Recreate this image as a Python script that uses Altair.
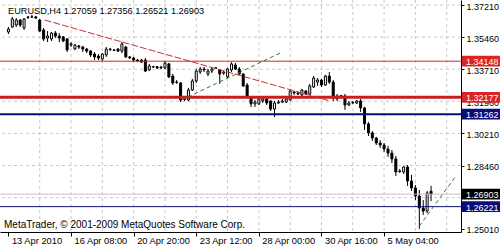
import json
import altair as alt
import pandas as pd

symbol = "EURUSD,H4"

opens = [1.3574, 1.3601, 1.3612, 1.3639, 1.3596, 1.3656, 1.3655, 1.3656, 1.3639, 1.3585,
         1.3541, 1.3536, 1.3568, 1.3552, 1.3547, 1.3536, 1.3503, 1.3481, 1.3498, 1.3492,
         1.3481, 1.3470, 1.3454, 1.3443, 1.3427, 1.3449, 1.3481, 1.3476, 1.3481, 1.3470,
         1.3492, 1.3438, 1.3432, 1.3421, 1.3421, 1.3421, 1.3367, 1.3383, 1.3385, 1.3378,
         1.3378, 1.3400, 1.3334, 1.3301, 1.3296, 1.3209, 1.3203, 1.3258, 1.3307, 1.3356,
         1.3372, 1.3345, 1.3361, 1.3378, 1.3367, 1.3350, 1.3329, 1.3367, 1.3394, 1.3372,
         1.3345, 1.3285, 1.3220, 1.3182, 1.3182, 1.3198, 1.3209, 1.3198, 1.3154, 1.3187,
         1.3192, 1.3192, 1.3203, 1.3247, 1.3242, 1.3231, 1.3252, 1.3236, 1.3274, 1.3301,
         1.3312, 1.3285, 1.3334, 1.3301, 1.3209, 1.3225, 1.3225, 1.3176, 1.3187, 1.3187,
         1.3198, 1.3160, 1.3073, 1.3024, 1.2996, 1.2969, 1.2958, 1.2936, 1.2914, 1.2882,
         1.2816, 1.2811, 1.2838, 1.2762, 1.2724, 1.2680, 1.2615, 1.2598, 1.27059]

highs = [1.3601, 1.3656, 1.3650, 1.3645, 1.3650, 1.3661, 1.3667, 1.3661, 1.3645, 1.3596,
         1.3579, 1.3574, 1.3579, 1.3568, 1.3552, 1.3541, 1.3519, 1.3509, 1.3503, 1.3498,
         1.3487, 1.3476, 1.3465, 1.3454, 1.3459, 1.3492, 1.3487, 1.3481, 1.3487, 1.3519,
         1.3498, 1.3443, 1.3438, 1.3427, 1.3427, 1.3432, 1.3400, 1.3389, 1.3389, 1.3389,
         1.3416, 1.3405, 1.3345, 1.3312, 1.3301, 1.3220, 1.3269, 1.3318, 1.3372, 1.3383,
         1.3383, 1.3372, 1.3383, 1.3383, 1.3372, 1.3361, 1.3378, 1.3410, 1.3405, 1.3383,
         1.3350, 1.3296, 1.3225, 1.3203, 1.3214, 1.3214, 1.3214, 1.3203, 1.3198, 1.3203,
         1.3209, 1.3214, 1.3263, 1.3252, 1.3247, 1.3263, 1.3258, 1.3291, 1.3334, 1.3323,
         1.3318, 1.3340, 1.3356, 1.3312, 1.3236, 1.3231, 1.3236, 1.3198, 1.3198, 1.3203,
         1.3209, 1.3165, 1.3083, 1.3034, 1.3002, 1.2985, 1.2969, 1.2953, 1.2931, 1.2898,
         1.2827, 1.2844, 1.2849, 1.2795, 1.2740, 1.2713, 1.2658, 1.2707, 1.27356]

lows = [1.3563, 1.3596, 1.3601, 1.3601, 1.3585, 1.3645, 1.3650, 1.3645, 1.3574, 1.3525,
        1.3519, 1.3525, 1.3541, 1.3519, 1.3519, 1.3465, 1.3492, 1.3476, 1.3481, 1.3465,
        1.3459, 1.3438, 1.3421, 1.3421, 1.3416, 1.3438, 1.3470, 1.3470, 1.3465, 1.3459,
        1.3432, 1.3427, 1.3410, 1.3410, 1.3405, 1.3356, 1.3361, 1.3378, 1.3372, 1.3372,
        1.3372, 1.3323, 1.3285, 1.3291, 1.3192, 1.3198, 1.3198, 1.3252, 1.3296, 1.3345,
        1.3356, 1.3334, 1.3350, 1.3372, 1.3291, 1.3340, 1.3323, 1.3356, 1.3367, 1.3340,
        1.3274, 1.3214, 1.3165, 1.3165, 1.3176, 1.3187, 1.3176, 1.3143, 1.3111, 1.3182,
        1.3187, 1.3187, 1.3198, 1.3231, 1.3231, 1.3225, 1.3231, 1.3231, 1.3269, 1.3280,
        1.3274, 1.3280, 1.3291, 1.3198, 1.3198, 1.3220, 1.3149, 1.3171, 1.3182, 1.3182,
        1.3138, 1.3040, 1.3007, 1.2980, 1.2958, 1.2942, 1.2920, 1.2893, 1.2860, 1.2789,
        1.2806, 1.2800, 1.2735, 1.2707, 1.2658, 1.2501, 1.2577, 1.2587, 1.26521]

closes = [1.3590, 1.3645, 1.3639, 1.3612, 1.3645, 1.3653, 1.3657, 1.3650, 1.3579, 1.3536,
          1.3552, 1.3568, 1.3552, 1.3541, 1.3525, 1.3476, 1.3509, 1.3503, 1.3492, 1.3481,
          1.3470, 1.3449, 1.3438, 1.3432, 1.3454, 1.3481, 1.3479, 1.3474, 1.3470, 1.3509,
          1.3438, 1.3433, 1.3421, 1.3416, 1.3410, 1.3361, 1.3389, 1.3385, 1.3378, 1.3383,
          1.3405, 1.3329, 1.3296, 1.3299, 1.3203, 1.3207, 1.3258, 1.3307, 1.3361, 1.3372,
          1.3367, 1.3361, 1.3372, 1.3376, 1.3345, 1.3356, 1.3372, 1.3400, 1.3372, 1.3345,
          1.3280, 1.3220, 1.3182, 1.3192, 1.3209, 1.3209, 1.3187, 1.3154, 1.3187, 1.3192,
          1.3198, 1.3209, 1.3252, 1.3242, 1.3236, 1.3258, 1.3236, 1.3280, 1.3323, 1.3312,
          1.3285, 1.3334, 1.3301, 1.3214, 1.3225, 1.3227, 1.3176, 1.3187, 1.3190, 1.3198,
          1.3160, 1.3073, 1.3024, 1.2996, 1.2969, 1.2958, 1.2936, 1.2914, 1.2882, 1.2811,
          1.2813, 1.2838, 1.2762, 1.2724, 1.2680, 1.2615, 1.2598, 1.2697, 1.26903]

date_pos = [0, 16, 32, 48, 64, 80, 96]
date_labels = ["13 Apr 2010", "16 Apr 08:00", "20 Apr 20:00", "23 Apr 12:00",
               "28 Apr 00:00", "30 Apr 16:00", "5 May 04:00"]
# 1.26710 sits fully under the 1.26903 / 1.26221 boxes in the reference
price_ticks = [1.2501, 1.2846, 1.3021, 1.3196, 1.3371, 1.3546, 1.3721]
grid_prices = [1.2671, 1.2846, 1.3021, 1.3196, 1.3371, 1.3546, 1.3721]
grid_bars = [8, 16, 24, 32, 40, 48, 56, 64, 72, 80, 88, 96, 104, 112]

levels = [1.34148, 1.32177, 1.31262, 1.26903, 1.26221]

red_trend_i = [9.25, 81.75]
red_trend_p = [1.36392, 1.32004]
green_trend1_i = [44.25, 70.0]
green_trend1_p = [1.32031, 1.34648]
green_trend2_i = [105.0, 114.25]
green_trend2_p = [1.25162, 1.2786]

copyright_text = "MetaTrader, \u00a9 2001-2009 MetaQuotes Software Corp."

# ---------------------------------------------------------------- styles
FONT = "Liberation Sans"
RED = "#dc2424"
NAVY = "#0c0c78"
level_styles = [
    dict(color=RED, width=1, box=RED),
    dict(color="#c81e1e", width=3, box=RED),
    dict(color=NAVY, width=2, box=NAVY),
    dict(color="#c4c4c4", width=1, box="#000000"),
    dict(color=NAVY, width=1, box=NAVY),
]

df = pd.DataFrame({"i": list(range(len(opens))), "o": opens, "h": highs,
                   "l": lows, "c": closes})

xs = alt.Scale(domain=[-0.875, 114.375], nice=False, zero=False)
ys = alt.Scale(domain=[1.24839, 1.37483], nice=False, zero=False)

label_expr = f"{json.dumps(date_labels)}[indexof({json.dumps(date_pos)}, datum.value)]"
xaxis = alt.Axis(values=date_pos, labelExpr=label_expr, title=None, grid=False,
                 tickSize=4, tickColor="black", domainColor="black",
                 labelAlign="left", labelBaseline="alphabetic", labelPadding=7.5,
                 labelOffset=3, labelFont=FONT, labelFontSize=9.3, labelColor="black",
                 labelFlush=False, labelOverlap=False)
yaxis = alt.Axis(orient="right", values=price_ticks, format=".5f", title=None,
                 grid=False, tickSize=3, tickColor="black", domainColor="black",
                 labelPadding=2, labelFont=FONT, labelFontSize=9, labelColor="black",
                 labelBaseline="middle", labelOffset=1, labelFlush=False,
                 labelOverlap=False)


def X(f="i"):
    return alt.X(f"{f}:Q", scale=xs, axis=xaxis)


def Y(f):
    return alt.Y(f"{f}:Q", scale=ys, axis=yaxis)


layers = []

# grid
layers.append(alt.Chart(pd.DataFrame({"p": grid_prices})).mark_rule(
    color="#c8c8c8", strokeWidth=1, strokeDash=[3, 3]).encode(y=Y("p")))
layers.append(alt.Chart(pd.DataFrame({"i": grid_bars})).mark_rule(
    color="#c8c8c8", strokeWidth=1, strokeDash=[3, 3]).encode(x=X("i")))

# candles
base = alt.Chart(df)
layers.append(base.mark_rule(color="black", strokeWidth=1).encode(
    x=X("i"), y=Y("l"), y2=alt.Y2("h:Q")))
layers.append(base.mark_bar(size=2, stroke="black", strokeWidth=1).encode(
    x=X("i"), y=Y("o"), y2=alt.Y2("c:Q"),
    fill=alt.condition("datum.c >= datum.o", alt.value("white"), alt.value("black"))))

# horizontal levels
for p, st in zip(levels, level_styles):
    layers.append(alt.Chart(pd.DataFrame({"p": [p]})).mark_rule(
        color=st["color"], strokeWidth=st["width"]).encode(y=Y("p")))

# trendlines
layers.append(alt.Chart(pd.DataFrame({"i": red_trend_i, "p": red_trend_p})).mark_line(
    color="#c83030", strokeWidth=1, strokeDash=[7, 2]).encode(x=X("i"), y=Y("p")))
for ti, tp in [(green_trend1_i, green_trend1_p), (green_trend2_i, green_trend2_p)]:
    layers.append(alt.Chart(pd.DataFrame({"i": ti, "p": tp})).mark_line(
        color="#2f7a2f", strokeWidth=1, strokeDash=[4, 3]).encode(x=X("i"), y=Y("p")))

# price boxes on the right scale
for p, st in zip(levels, level_styles):
    d = pd.DataFrame({"p": [p]})
    box = alt.Chart(d).transform_calculate(
        lo="datum.p - 0.00295", hi="datum.p + 0.00295").mark_rect(
        color=st["box"], clip=False).encode(
        x=alt.value(462), x2=alt.value(500), y=Y("lo"), y2=alt.Y2("hi:Q"))
    txt = alt.Chart(d).transform_calculate(
        t="format(datum.p, '.5f')").mark_text(
        color="white", font=FONT, fontSize=9, align="left", baseline="middle",
        dy=1, clip=False).encode(x=alt.value(466), y=Y("p"), text="t:N")
    layers += [box, txt]

# title and copyright
title_text = f"{symbol}  {opens[-1]:.5f} {highs[-1]:.5f} {lows[-1]:.5f} {closes[-1]:.5f}"
layers.append(alt.Chart(pd.DataFrame({"t": [title_text]})).mark_text(
    font=FONT, fontSize=9.2, color="black", align="left", baseline="alphabetic").encode(
    x=alt.value(8), y=alt.value(14), text="t:N"))
layers.append(alt.Chart(pd.DataFrame({"t": [copyright_text]})).mark_text(
    font=FONT, fontSize=10, color="black", align="left", baseline="alphabetic").encode(
    x=alt.value(4), y=alt.value(227.5), text="t:N"))

chart = alt.layer(*layers).properties(
    width=461, height=232,
    padding={"left": 0, "top": 0, "right": 39, "bottom": 18},
    autosize=alt.AutoSizeParams(type="none"),
    background="white",
).configure_view(stroke=None)

chart.save("out.html", embed_options={"renderer": "svg", "actions": False})
